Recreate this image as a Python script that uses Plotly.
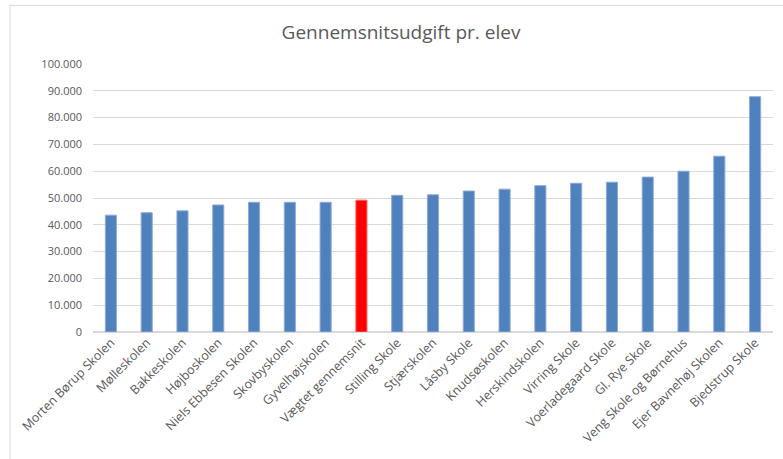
import plotly.graph_objects as go

schools = ["Morten Børup Skolen", "Mølleskolen", "Bakkeskolen", "Højboskolen",
           "Niels Ebbesen Skolen", "Skovbyskolen", "Gyvelhøjskolen", "Vægtet gennemsnit",
           "Stilling Skole", "Stjærskolen", "Låsby Skole", "Knudsøskolen",
           "Herskindskolen", "Virring Skole", "Voerladegaard Skole", "Gl. Rye Skole",
           "Veng Skole og Børnehus", "Ejer Bavnehøj Skolen", "Bjedstrup Skole"]
cost = [43600, 44500, 45200, 47400, 48400, 48400, 48400, 49200, 51000, 51200,
        52600, 53300, 54600, 55500, 55900, 57800, 60000, 65600, 87800]
highlight = "Vægtet gennemsnit"

colors = ["#FF0000" if s == highlight else "#4F81BD" for s in schools]
lines = ["#FF6666" if s == highlight else "#8EAAD6" for s in schools]

fig = go.Figure(go.Bar(
    x=schools, y=cost, width=0.31,
    marker=dict(color=colors, line=dict(color=lines, width=1)),
))

txt = "#595959"
fig.update_layout(
    width=783, height=459,
    margin=dict(l=93, r=10, t=64, b=127),
    paper_bgcolor="white", plot_bgcolor="white",
    separators=",.",
    font=dict(family="'Open Sans', sans-serif", color=txt, size=12),
    title=dict(text="Gennemsnitsudgift pr. elev", x=401/783, xref="container", xanchor="center",
               y=1 - 32/459, yref="container", yanchor="middle",
               font=dict(size=19, color=txt)),
    showlegend=False,
    xaxis=dict(tickangle=-45, showgrid=False, showline=False, ticks="",
               tickfont=dict(size=12.5, color=txt)),
    yaxis=dict(range=[0, 100000], dtick=10000, tickformat=",d", showgrid=True,
               gridcolor="#D9D9D9", gridwidth=1.3, zeroline=True, zerolinecolor="#D9D9D9",
               zerolinewidth=1.5, showline=False, ticks="", ticklabelstandoff=10,
               tickfont=dict(size=11, color=txt)),
    shapes=[
        dict(type="line", xref="paper", yref="paper", x0=-83/680, x1=1.2,
             y0=(459-127-5)/268.3, y1=(459-127-5)/268.3, line=dict(color="#D9D9D9", width=1)),
        dict(type="line", xref="paper", yref="paper", x0=-83/680, x1=-83/680,
             y0=(459-127-5)/268.3, y1=-1, line=dict(color="#D9D9D9", width=1)),
    ],
)

fig.write_html("out.html", config={"displayModeBar": False},
               post_script="document.body.style.margin='0px';")
